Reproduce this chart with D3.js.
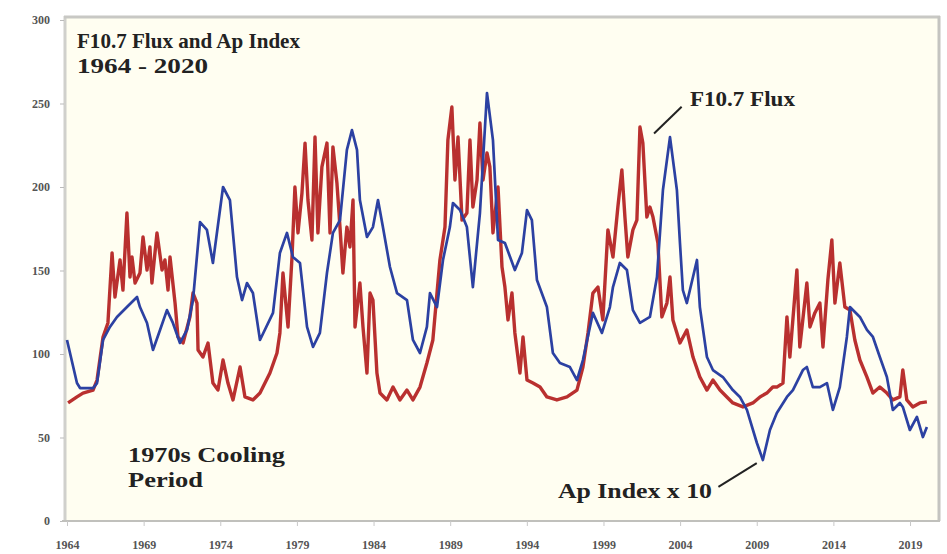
<!DOCTYPE html>
<html><head><meta charset="utf-8">
<script src="https://cdn.jsdelivr.net/npm/d3@7/dist/d3.min.js"></script>
<style>
html,body{margin:0;padding:0;background:#fff;}
svg{display:block;}
text{font-family:"Liberation Serif","DejaVu Serif",serif;font-weight:bold;}
</style></head>
<body>
<svg id="chart" width="947" height="554"></svg>
<script>
// ---- data ----
const titleLines = ["F10.7 Flux and Ap Index", "1964 - 2020"];
const titleWidths = [223, 131];
const yTicks = [0, 50, 100, 150, 200, 250, 300];
const xTicks = [1964, 1969, 1974, 1979, 1984, 1989, 1994, 1999, 2004, 2009, 2014, 2019];

// F10.7 solar flux (decimal year, value)
const fluxYears = [1964.07,1964.65,1965.04,1965.70,1965.96,1966.35,1966.67,1966.94,1967.13,1967.46,1967.65,1967.91,1968.11,1968.24,1968.44,1968.76,1968.96,1969.22,1969.41,1969.54,1969.87,1970.20,1970.39,1970.59,1970.72,1971.05,1971.24,1971.57,1972.02,1972.22,1972.48,1972.55,1972.87,1973.20,1973.52,1973.85,1974.18,1974.50,1974.83,1975.29,1975.61,1976.13,1976.59,1977.24,1977.70,1977.89,1978.09,1978.42,1978.68,1978.87,1979.07,1979.33,1979.53,1979.72,1979.98,1980.18,1980.37,1980.63,1980.96,1981.16,1981.35,1981.61,1981.81,1982.00,1982.26,1982.46,1982.66,1982.79,1983.11,1983.31,1983.57,1983.77,1983.96,1984.22,1984.42,1984.87,1985.27,1985.72,1986.18,1986.57,1987.03,1987.48,1987.87,1988.33,1988.66,1988.85,1989.11,1989.31,1989.51,1989.77,1990.09,1990.29,1990.48,1990.75,1990.94,1991.14,1991.40,1991.59,1991.79,1992.12,1992.38,1992.57,1992.77,1993.03,1993.22,1993.55,1993.75,1994.01,1994.40,1994.86,1995.31,1995.96,1996.62,1997.27,1997.66,1997.99,1998.31,1998.64,1998.96,1999.29,1999.62,1999.94,2000.20,2000.40,2000.59,2000.92,2001.18,2001.38,2001.57,2001.83,2002.03,2002.23,2002.55,2002.81,2003.14,2003.34,2003.53,2003.99,2004.44,2004.84,2005.29,2005.75,2006.14,2006.60,2007.05,2007.44,2008.10,2008.75,2009.21,2009.66,2010.05,2010.31,2010.71,2010.97,2011.16,2011.62,2011.81,2012.27,2012.47,2012.79,2013.12,2013.32,2013.64,2013.90,2014.10,2014.42,2014.75,2015.08,2015.40,2015.73,2016.19,2016.58,2017.03,2017.49,2017.88,2018.34,2018.53,2018.79,2019.18,2019.64,2020.10];
const fluxValues = [70.7,74.3,76.6,78.4,84.4,110.2,118.6,160.5,134.1,156.3,138.3,184.4,146.1,158.1,142.5,148.5,170.1,150.3,164.1,142.5,172.5,150.3,156.3,138.3,158.1,130.5,110.2,106.6,122.2,136.5,130.5,102.4,98.2,106.6,82.6,78.4,96.4,82.6,72.5,92.2,74.3,72.5,76.6,88.6,100.6,112.6,148.5,116.2,158.1,200.0,172.5,196.4,226.3,192.2,168.3,229.9,172.5,212.0,226.3,172.5,224.0,202.4,176.0,148.5,176.0,164.1,192.2,116.2,142.5,116.2,88.6,136.5,132.3,88.6,76.6,72.5,80.2,72.5,78.4,72.5,80.2,94.6,108.4,156.3,176.0,228.1,247.9,204.2,229.9,180.2,184.4,228.1,188.0,204.2,238.3,204.2,220.4,212.0,172.5,200.0,152.1,140.1,120.4,136.5,112.6,88.6,110.2,84.4,82.6,80.2,74.3,72.5,74.3,78.4,92.2,112.6,136.5,140.1,120.4,174.3,158.1,188.0,210.2,182.0,158.1,174.3,180.2,235.9,226.3,182.0,188.0,182.0,166.5,122.2,130.5,146.1,120.4,106.6,114.4,98.2,86.2,78.4,84.4,78.4,74.3,70.7,68.3,70.7,74.3,76.6,80.2,80.2,82.6,122.2,98.2,150.3,104.2,142.5,116.2,124.6,130.5,104.2,144.3,168.3,130.5,154.5,128.1,126.3,108.4,96.4,86.2,76.6,80.2,76.6,72.5,74.3,90.4,72.5,68.3,70.7,71.3];

// Ap index x 10 (decimal year, value)
const apYears = [1964.00,1964.65,1964.85,1965.70,1965.96,1966.35,1966.80,1967.26,1967.91,1968.57,1968.76,1969.22,1969.61,1970.07,1970.52,1970.91,1971.37,1971.83,1972.22,1972.68,1973.13,1973.52,1974.18,1974.63,1975.09,1975.42,1975.74,1976.13,1976.59,1977.44,1977.89,1978.35,1978.74,1979.20,1979.66,1980.05,1980.50,1980.96,1981.35,1981.81,1982.26,1982.59,1982.92,1983.11,1983.57,1983.96,1984.29,1984.61,1985.07,1985.53,1986.18,1986.57,1987.03,1987.48,1987.68,1988.14,1988.53,1988.98,1989.18,1989.64,1990.09,1990.48,1990.94,1991.40,1991.79,1992.12,1992.57,1993.22,1993.68,1994.01,1994.33,1994.66,1995.31,1995.70,1996.16,1996.81,1997.27,1997.66,1998.31,1998.90,1999.42,1999.62,2000.07,2000.53,2000.92,2001.38,2002.03,2002.49,2002.88,2003.34,2003.79,2003.99,2004.18,2004.44,2004.84,2005.10,2005.29,2005.75,2006.14,2006.79,2007.44,2007.90,2008.36,2009.01,2009.40,2009.86,2010.31,2010.97,2011.36,2012.01,2012.27,2012.66,2013.12,2013.58,2013.97,2014.42,2014.88,2015.08,2015.73,2016.19,2016.58,2017.03,2017.49,2017.88,2018.34,2018.53,2018.99,2019.45,2019.84,2020.10];
const apValues = [108.4,82.6,79.6,79.6,82.6,108.4,116.2,122.2,128.1,134.1,128.1,118.6,102.4,114.4,126.3,118.6,106.6,114.4,132.3,179.0,174.3,154.5,200.0,192.2,146.1,132.3,142.5,136.5,108.4,124.6,160.5,172.5,158.1,154.5,116.2,104.2,112.6,148.5,172.5,180.2,222.2,234.1,222.2,192.2,170.1,176.0,192.2,176.0,152.1,136.5,132.3,108.4,100.6,116.2,136.5,128.1,156.3,176.0,190.4,186.2,176.0,140.1,184.4,256.3,228.1,168.3,166.5,150.3,160.5,186.2,180.2,144.3,128.1,100.6,94.6,92.2,84.4,96.4,124.6,112.6,128.1,140.1,154.5,150.3,126.3,118.6,122.2,146.1,198.2,229.9,198.2,166.5,138.3,130.5,146.1,156.3,128.1,98.2,90.4,86.2,78.4,74.3,66.5,46.7,36.5,54.5,64.7,74.3,78.4,90.4,92.2,80.2,80.2,82.6,66.5,80.2,110.2,128.1,122.2,114.4,110.2,98.2,86.2,66.5,70.7,68.3,54.5,62.3,50.3,56.3];

const annotations = [
  {lines:["1970s Cooling","Period"], widths:[157, 75], year:1967.98, value:35.3},
  {lines:["F10.7 Flux"], widths:[105], year:2004.64, value:248.5},
  {lines:["Ap Index x 10"], widths:[154], year:1996.03, value:13.8}
];
const pointers = [
  {from:[2002.3, 232], to:[2004.1, 248]},
  {from:[2006.5, 20.4], to:[2009.0, 34.7]}
];

// ---- layout ----
const svg = d3.select("#chart");
const M = {left:66, right:938, top:18, bottom:521};
const x = d3.scaleLinear().domain([1964, 2020.76]).range([67, 937]);
const y = d3.scaleLinear().domain([0, 300]).range([M.bottom, 20]);

// panel
svg.append("rect").attr("x", M.left).attr("y", M.top).attr("width", M.right - M.left).attr("height", M.bottom - M.top).attr("fill", "#fffef1");
svg.append("line").attr("x1", M.left-1).attr("x2", M.left-1).attr("y1", M.top-2).attr("y2", M.bottom).attr("stroke", "#d0d0cc").attr("stroke-width", 3);
svg.append("line").attr("x1", M.left-2).attr("x2", M.right+2).attr("y1", M.top-1).attr("y2", M.top-1).attr("stroke", "#c8c8c4").attr("stroke-width", 3);
svg.append("line").attr("x1", M.right+1).attr("x2", M.right+1).attr("y1", M.top-2).attr("y2", M.bottom).attr("stroke", "#c4c4c0").attr("stroke-width", 3);

// y axis
const yAxis = d3.axisLeft(y).tickValues(yTicks).tickSize(4).tickPadding(10).tickFormat(d3.format("d"));
const gy = svg.append("g").attr("transform", `translate(${M.left-2},0)`).call(yAxis);
gy.select(".domain").remove();
gy.selectAll(".tick line").attr("stroke", "#bbb");
gy.selectAll(".tick text").attr("fill", "#555").style("font-size", "12px").style("font-family", "'Liberation Serif', serif").style("font-weight", "bold");

// x axis
const xAxis = d3.axisBottom(x).tickValues(xTicks).tickSize(5).tickPadding(14).tickFormat(d3.format("d"));
const gx = svg.append("g").attr("transform", `translate(0,${M.bottom})`).call(xAxis);
gx.select(".domain").attr("stroke", "#c0c0bc").attr("stroke-width", 2).attr("d", `M${M.left-4},0H${M.right+2}`);
gx.selectAll(".tick line").attr("stroke", "#c8c8c8");
gx.selectAll(".tick text").attr("fill", "#555").style("font-size", "12px").style("font-family", "'Liberation Serif', serif").style("font-weight", "bold");

// series
const flux = fluxYears.map((t, i) => [t, fluxValues[i]]);
const ap = apYears.map((t, i) => [t, apValues[i]]);
const line = d3.line().x(d => x(d[0])).y(d => y(d[1]));

svg.append("path").datum(flux).attr("d", line).attr("fill", "none")
  .attr("stroke", "#b31e1e").attr("stroke-width", 3.4).attr("stroke-linejoin", "round").attr("stroke-opacity", 0.92);
svg.append("path").datum(ap).attr("d", line).attr("fill", "none")
  .attr("stroke", "#2c41a2").attr("stroke-width", 2.7).attr("stroke-linejoin", "round");

// title
const tt = svg.append("text").attr("x", 77).attr("y", 48).attr("fill", "#222").style("font-size", "21px");
titleLines.forEach((s, i) => tt.append("tspan").attr("x", 77).attr("dy", i === 0 ? 0 : 25)
  .attr("textLength", titleWidths[i]).attr("lengthAdjust", "spacingAndGlyphs").text(s));

// annotations
annotations.forEach(a => {
  const t = svg.append("text").attr("x", x(a.year)).attr("y", y(a.value)).attr("fill", "#222").style("font-size", "21px");
  a.lines.forEach((s, i) => t.append("tspan").attr("x", x(a.year)).attr("dy", i === 0 ? 0 : 25)
    .attr("textLength", a.widths[i]).attr("lengthAdjust", "spacingAndGlyphs").text(s));
});
pointers.forEach(p => {
  svg.append("line").attr("x1", x(p.from[0])).attr("y1", y(p.from[1])).attr("x2", x(p.to[0])).attr("y2", y(p.to[1]))
    .attr("stroke", "#222").attr("stroke-width", 2);
});
</script>
</body></html>
